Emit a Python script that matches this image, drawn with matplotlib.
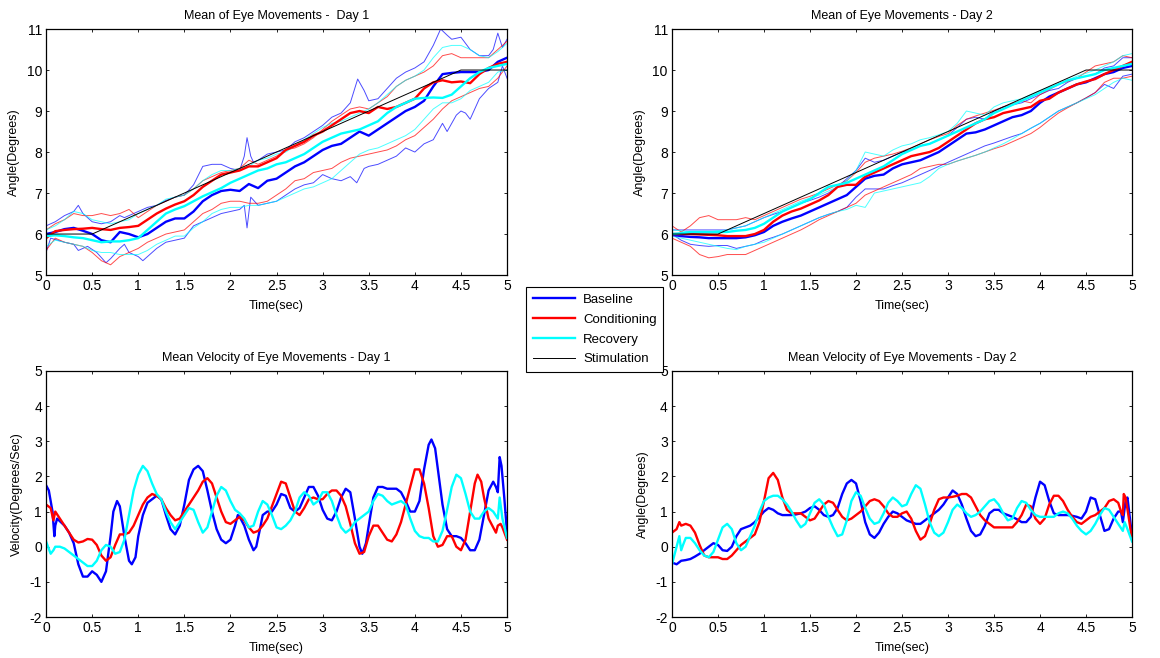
import numpy as np
import matplotlib
matplotlib.use("Agg")
import matplotlib.pyplot as plt
from matplotlib.lines import Line2D
from matplotlib.ticker import FuncFormatter

plt.rcParams['font.family'] = ['Liberation Sans', 'DejaVu Sans']

# ---------------- data ----------------
# common time grids (sec)
t_tenth = np.round(np.arange(0, 5.001, 0.1), 2)
t_step = np.round(np.arange(0, 5.001, 0.05), 2)

# stimulation profile (same for both days)
stim_t = [0, 0.5, 4.5, 5.0]
stim_v = [6, 6, 10, 10]

# ---- Day 1 position means (on t_tenth)
d1_base_mean = [6.0, 6.05, 6.12, 6.15, 6.08, 6.0, 5.85, 5.8, 6.05, 6.0,
                5.92, 6.0, 6.15, 6.3, 6.38, 6.38, 6.55, 6.8, 6.95, 7.05,
                7.08, 7.05, 7.22, 7.12, 7.3, 7.35, 7.5, 7.65, 7.75, 7.9,
                8.05, 8.15, 8.2, 8.35, 8.5, 8.4, 8.55, 8.7, 8.85, 9.0,
                9.1, 9.25, 9.6, 9.9, 9.93, 9.95, 9.95, 9.95, 10.0, 10.2,
                10.3]
d1_cond_mean = [5.9, 6.07, 6.1, 6.12, 6.13, 6.15, 6.12, 6.1, 6.15, 6.17,
                6.2, 6.35, 6.5, 6.62, 6.72, 6.8, 6.95, 7.15, 7.3, 7.45,
                7.5, 7.55, 7.65, 7.65, 7.75, 7.85, 8.05, 8.15, 8.25, 8.4,
                8.5, 8.65, 8.8, 8.95, 9.0, 8.95, 9.1, 9.05, 9.1, 9.2,
                9.3, 9.55, 9.7, 9.75, 9.7, 9.72, 9.68, 9.9, 10.05, 10.15,
                10.2]
d1_rec_mean = [5.95, 5.97, 5.95, 5.92, 5.9, 5.85, 5.8, 5.82, 5.82, 5.85,
               5.9, 6.1, 6.3, 6.5, 6.6, 6.68, 6.8, 6.92, 7.02, 7.12,
               7.25, 7.35, 7.45, 7.55, 7.6, 7.7, 7.75, 7.85, 7.95, 8.1,
               8.25, 8.35, 8.45, 8.5, 8.55, 8.65, 8.75, 8.95, 9.1, 9.2,
               9.3, 9.32, 9.33, 9.32, 9.4, 9.6, 9.8, 9.95, 10.05, 10.1,
               10.15]

# ---- Day 1 spread lines
d1_base_hi_t = [0, 0.1, 0.2, 0.3, 0.35, 0.4, 0.5, 0.6, 0.7, 0.8,
                0.85, 0.9, 1.0, 1.1, 1.2, 1.3, 1.4, 1.5, 1.6, 1.7,
                1.8, 1.9, 2.0, 2.1, 2.15, 2.18, 2.22, 2.25, 2.3, 2.4,
                2.5, 2.6, 2.7, 2.8, 2.9, 3.0, 3.1, 3.2, 3.3, 3.38,
                3.45, 3.5, 3.6, 3.7, 3.8, 3.9, 4.0, 4.1, 4.2, 4.28,
                4.35, 4.4, 4.5, 4.6, 4.7, 4.8, 4.85, 4.9, 4.95, 5.0]
d1_base_hi = [6.2, 6.3, 6.45, 6.55, 6.7, 6.5, 6.3, 6.25, 6.3, 6.45,
              6.4, 6.45, 6.55, 6.65, 6.7, 6.82, 6.9, 6.95, 7.2, 7.65,
              7.7, 7.7, 7.6, 7.55, 7.9, 8.35, 7.9, 7.75, 7.8, 7.95,
              8.0, 8.05, 8.25, 8.35, 8.5, 8.65, 8.85, 8.95, 9.2, 9.78,
              9.5, 9.25, 9.3, 9.55, 9.8, 9.95, 10.05, 10.2, 10.6, 11.0,
              10.85, 10.75, 10.8, 10.5, 10.35, 10.35, 10.5, 10.9, 10.55, 10.75]
d1_base_lo_t = [0, 0.05, 0.2, 0.3, 0.35, 0.45, 0.55, 0.65, 0.7, 0.8,
                0.85, 0.9, 1.0, 1.05, 1.1, 1.2, 1.3, 1.4, 1.5, 1.6,
                1.7, 1.8, 1.9, 2.0, 2.1, 2.15, 2.18, 2.22, 2.3, 2.4,
                2.5, 2.6, 2.7, 2.8, 2.9, 3.0, 3.1, 3.2, 3.3, 3.37,
                3.45, 3.5, 3.6, 3.7, 3.8, 3.9, 4.0, 4.1, 4.2, 4.3,
                4.35, 4.45, 4.5, 4.55, 4.6, 4.7, 4.8, 4.9, 4.95, 5.0]
d1_base_lo = [5.55, 5.9, 5.8, 5.75, 5.6, 5.7, 5.55, 5.3, 5.4, 5.65,
              5.75, 5.55, 5.45, 5.35, 5.45, 5.65, 5.8, 5.85, 5.9, 6.2,
              6.3, 6.4, 6.5, 6.55, 6.6, 6.7, 6.15, 6.9, 6.7, 6.75,
              6.8, 6.95, 7.1, 7.2, 7.25, 7.45, 7.35, 7.3, 7.4, 7.25,
              7.6, 7.65, 7.7, 7.8, 7.9, 8.1, 8.0, 8.2, 8.3, 8.7,
              8.5, 8.9, 9.0, 8.95, 8.8, 9.3, 9.55, 9.7, 10.1, 9.8]
d1_cond_hi = [6.1, 6.25, 6.35, 6.5, 6.45, 6.45, 6.5, 6.45, 6.5, 6.6,
              6.4, 6.55, 6.7, 6.8, 6.9, 6.95, 7.1, 7.3, 7.4, 7.5,
              7.55, 7.6, 7.8, 7.7, 7.8, 7.9, 8.05, 8.1, 8.2, 8.35,
              8.55, 8.75, 8.9, 9.05, 9.1, 9.05, 9.2, 9.35, 9.6, 9.75,
              9.85, 9.95, 10.1, 10.35, 10.4, 10.3, 10.3, 10.3, 10.3, 10.5,
              10.7]
d1_cond_lo = [5.6, 5.9, 5.8, 5.75, 5.7, 5.55, 5.35, 5.25, 5.45, 5.55,
              5.65, 5.8, 5.9, 6.0, 6.05, 6.1, 6.3, 6.5, 6.6, 6.75,
              6.8, 6.8, 6.75, 6.75, 6.8, 6.95, 7.1, 7.3, 7.35, 7.5,
              7.55, 7.6, 7.75, 7.85, 7.9, 7.95, 8.0, 8.05, 8.15, 8.3,
              8.4, 8.6, 8.8, 9.05, 9.25, 9.35, 9.45, 9.55, 9.6, 9.8,
              10.1]
d1_rec_hi = [6.1, 6.2, 6.35, 6.55, 6.5, 6.35, 6.3, 6.25, 6.3, 6.35,
             6.5, 6.6, 6.7, 6.85, 6.9, 6.95, 7.1, 7.3, 7.45, 7.55,
             7.55, 7.6, 7.65, 7.8, 7.85, 7.95, 8.0, 8.15, 8.3, 8.45,
             8.6, 8.7, 8.75, 8.85, 8.95, 9.05, 9.2, 9.4, 9.6, 9.75,
             9.85, 10.0, 10.3, 10.55, 10.6, 10.6, 10.5, 10.35, 10.3, 10.45,
             10.65]
d1_rec_lo = [5.7, 5.85, 5.8, 5.75, 5.7, 5.6, 5.55, 5.55, 5.5, 5.5,
             5.5, 5.6, 5.75, 5.85, 5.95, 5.95, 6.15, 6.3, 6.5, 6.6,
             6.65, 6.65, 6.7, 6.7, 6.75, 6.8, 6.9, 7.0, 7.1, 7.15,
             7.25, 7.35, 7.55, 7.75, 7.95, 8.05, 8.1, 8.2, 8.3, 8.4,
             8.55, 8.8, 9.05, 9.2, 9.2, 9.3, 9.5, 9.6, 9.7, 9.95,
             10.0]

# ---- Day 2 position (on t_tenth)
d2_base_mean = [5.98, 5.95, 5.93, 5.92, 5.9, 5.9, 5.9, 5.9, 5.92, 5.97,
                6.05, 6.2, 6.3, 6.38, 6.45, 6.55, 6.65, 6.75, 6.85, 6.95,
                7.15, 7.35, 7.42, 7.45, 7.6, 7.7, 7.75, 7.8, 7.9, 8.0,
                8.15, 8.3, 8.45, 8.48, 8.55, 8.65, 8.75, 8.85, 8.9, 9.0,
                9.2, 9.35, 9.45, 9.55, 9.65, 9.7, 9.8, 9.9, 9.95, 10.05,
                10.1]
d2_cond_mean = [6.0, 6.0, 6.0, 5.99, 5.98, 5.97, 5.95, 5.95, 5.95, 6.0,
                6.1, 6.3, 6.45, 6.55, 6.62, 6.72, 6.82, 6.95, 7.15, 7.2,
                7.2, 7.4, 7.5, 7.6, 7.7, 7.8, 7.9, 7.95, 8.0, 8.1,
                8.25, 8.4, 8.55, 8.7, 8.8, 8.85, 8.95, 9.0, 9.05, 9.1,
                9.25, 9.3, 9.45, 9.55, 9.65, 9.72, 9.78, 9.9, 10.0, 10.1,
                10.2]
d2_rec_mean = [6.0, 6.02, 6.05, 6.05, 6.05, 6.05, 6.05, 6.08, 6.1, 6.15,
               6.25, 6.4, 6.55, 6.65, 6.75, 6.85, 7.0, 7.15, 7.2, 7.25,
               7.35, 7.45, 7.55, 7.65, 7.8, 7.95, 8.05, 8.15, 8.2, 8.3,
               8.4, 8.5, 8.6, 8.7, 8.8, 8.95, 9.05, 9.15, 9.25, 9.35,
               9.45, 9.55, 9.65, 9.75, 9.8, 9.85, 9.9, 10.0, 10.05, 10.1,
               10.15]
d2_base_hi = [6.1, 6.1, 6.1, 6.1, 6.1, 6.1, 6.1, 6.15, 6.2, 6.3,
              6.4, 6.48, 6.55, 6.65, 6.75, 6.82, 6.9, 7.0, 7.15, 7.35,
              7.55, 7.85, 7.75, 7.8, 7.9, 8.0, 8.05, 8.15, 8.2, 8.3,
              8.4, 8.6, 8.8, 8.85, 8.8, 9.0, 9.1, 9.15, 9.2, 9.3,
              9.4, 9.5, 9.55, 9.7, 9.8, 9.85, 9.9, 10.05, 10.1, 10.3,
              10.3]
d2_base_lo = [6.0, 5.85, 5.75, 5.72, 5.7, 5.72, 5.72, 5.65, 5.7, 5.75,
              5.85, 5.92, 6.0, 6.1, 6.2, 6.3, 6.4, 6.48, 6.55, 6.65,
              6.9, 7.1, 7.1, 7.1, 7.18, 7.25, 7.35, 7.45, 7.55, 7.65,
              7.75, 7.85, 7.95, 8.05, 8.15, 8.22, 8.3, 8.38, 8.45, 8.58,
              8.7, 8.85, 9.0, 9.1, 9.2, 9.32, 9.45, 9.65, 9.55, 9.85,
              9.9]
d2_cond_hi = [6.2, 6.05, 6.2, 6.4, 6.45, 6.35, 6.35, 6.35, 6.4, 6.35,
              6.45, 6.55, 6.65, 6.75, 6.85, 6.92, 7.0, 7.1, 7.2, 7.3,
              7.5, 7.75, 7.85, 7.9, 7.95, 8.02, 8.1, 8.2, 8.3, 8.38,
              8.45, 8.65, 8.8, 8.88, 8.95, 9.02, 9.1, 9.18, 9.25, 9.2,
              9.4, 9.52, 9.65, 9.72, 9.8, 9.95, 10.1, 10.15, 10.2, 10.35,
              10.3]
d2_cond_lo = [5.9, 5.8, 5.7, 5.5, 5.42, 5.45, 5.5, 5.5, 5.5, 5.6,
              5.7, 5.8, 5.9, 6.0, 6.1, 6.22, 6.35, 6.45, 6.55, 6.65,
              6.75, 6.95, 7.05, 7.15, 7.25, 7.35, 7.45, 7.6, 7.65, 7.7,
              7.7, 7.78, 7.85, 7.92, 8.0, 8.08, 8.15, 8.25, 8.35, 8.45,
              8.6, 8.78, 8.95, 9.08, 9.2, 9.32, 9.45, 9.7, 9.8, 9.8,
              9.85]
d2_rec_hi = [6.1, 6.08, 6.05, 6.05, 6.05, 6.08, 6.1, 6.15, 6.2, 6.3,
             6.4, 6.5, 6.6, 6.7, 6.8, 6.88, 6.95, 7.05, 7.15, 7.3,
             7.55, 8.0, 7.95, 7.9, 8.05, 8.15, 8.2, 8.3, 8.35, 8.42,
             8.5, 8.7, 9.0, 8.95, 8.9, 9.1, 9.2, 9.25, 9.3, 9.4,
             9.5, 9.58, 9.65, 9.75, 9.85, 9.92, 10.0, 10.1, 10.2, 10.35,
             10.4]
d2_rec_lo = [5.95, 5.9, 5.85, 5.8, 5.75, 5.7, 5.65, 5.62, 5.7, 5.75,
             5.8, 5.9, 6.0, 6.1, 6.2, 6.3, 6.4, 6.48, 6.55, 6.6,
             6.7, 6.65, 7.0, 7.05, 7.1, 7.15, 7.2, 7.25, 7.4, 7.6,
             7.7, 7.78, 7.85, 7.92, 8.0, 8.1, 8.2, 8.32, 8.45, 8.58,
             8.7, 8.85, 9.0, 9.1, 9.2, 9.3, 9.4, 9.55, 9.7, 9.8,
             9.75]

# ---- Day 1 velocity
v1_base_t = [0, 0.03, 0.07, 0.09, 0.1, 0.12, 0.2, 0.25, 0.3, 0.35,
             0.4, 0.45, 0.5, 0.55, 0.6, 0.65, 0.7, 0.73, 0.77, 0.8,
             0.85, 0.9, 0.93, 0.97, 1.0, 1.05, 1.1, 1.2, 1.25, 1.3,
             1.35, 1.4, 1.45, 1.5, 1.55, 1.6, 1.65, 1.7, 1.75, 1.8,
             1.85, 1.9, 1.95, 2.0, 2.05, 2.08, 2.1, 2.15, 2.2, 2.25,
             2.28, 2.32, 2.35, 2.4, 2.45, 2.5, 2.55, 2.6, 2.65, 2.7,
             2.75, 2.8, 2.85, 2.9, 2.95, 3.0, 3.05, 3.1, 3.15, 3.2,
             3.25, 3.3, 3.35, 3.4, 3.43, 3.47, 3.5, 3.55, 3.6, 3.65,
             3.7, 3.8, 3.85, 3.9, 3.95, 4.0, 4.05, 4.1, 4.15, 4.18,
             4.22, 4.25, 4.3, 4.35, 4.4, 4.45, 4.5, 4.55, 4.6, 4.65,
             4.7, 4.75, 4.8, 4.85, 4.88, 4.9, 4.92, 4.94, 4.97, 5.0]
v1_base = [1.75, 1.6, 1.0, 0.3, 0.6, 0.8, 0.6, 0.4, 0.1, -0.5,
           -0.85, -0.85, -0.7, -0.8, -1.0, -0.7, 0.3, 1.0, 1.3, 1.15,
           0.3, -0.4, -0.5, -0.3, 0.3, 0.9, 1.25, 1.45, 1.35, 0.9,
           0.5, 0.35, 0.6, 1.2, 1.9, 2.2, 2.3, 2.15, 1.6, 1.0,
           0.5, 0.2, 0.1, 0.2, 0.6, 0.9, 0.85, 0.6, 0.2, -0.1,
           0.0, 0.5, 0.9, 1.0, 1.0, 1.2, 1.5, 1.45, 1.1, 1.0,
           1.1, 1.4, 1.7, 1.7, 1.45, 1.05, 0.8, 0.75, 1.0, 1.4,
           1.65, 1.55, 0.8, 0.0, -0.2, 0.1, 0.6, 1.4, 1.7, 1.7,
           1.65, 1.65, 1.55, 1.3, 1.0, 1.0, 1.3, 2.2, 2.9, 3.05,
           2.8, 2.2, 1.2, 0.5, 0.3, 0.3, 0.25, 0.1, -0.1, -0.1,
           0.2, 0.9, 1.6, 1.85, 1.7, 1.55, 2.55, 2.3, 1.4, 0.4]
v1_cond_t = [0, 0.05, 0.08] + list(t_step[2:94]) + [4.68, 4.72, 4.75, 4.8, 4.85, 4.88, 4.9, 4.93, 4.95, 5.0]
v1_cond = [1.2, 1.1, 0.75,
           1.0, 0.8, 0.6, 0.4, 0.2, 0.12, 0.15, 0.22,
           0.2, 0.05, -0.25, -0.4, -0.3, 0.05, 0.35, 0.35, 0.4, 0.6,
           0.9, 1.2, 1.4, 1.5, 1.45, 1.35, 1.1, 0.9, 0.75, 0.8,
           1.0, 1.2, 1.4, 1.6, 1.85, 1.95, 1.8, 1.4, 1.0, 0.7,
           0.65, 0.75, 0.85, 0.75, 0.55, 0.4, 0.45, 0.6, 0.8, 1.15,
           1.5, 1.85, 1.8, 1.4, 1.0, 0.9, 1.1, 1.35, 1.4, 1.35,
           1.35, 1.5, 1.6, 1.6, 1.45, 1.15, 0.65, 0.1, -0.2, -0.15,
           0.3, 0.6, 0.6, 0.4, 0.2, 0.15, 0.35, 0.7, 1.2, 1.7,
           2.2, 2.2, 1.8, 1.1, 0.3, 0.0, 0.05, 0.3, 0.3, 0.0,
           -0.1, 0.2, 1.0, 1.8,
           2.05, 1.85, 1.4, 0.8, 0.55, 0.4, 0.6, 0.65, 0.55, 0.2]
v1_rec_t = [0, 0.05, 0.08] + list(t_step[2:99]) + [4.92, 4.95, 5.0]
v1_rec = [0.15, -0.2, -0.1,
          0.0, 0.0, -0.05, -0.15, -0.25, -0.35, -0.45, -0.55,
          -0.55, -0.4, -0.1, 0.05, 0.0, -0.2, -0.15, 0.2, 0.9, 1.6,
          2.05, 2.3, 2.15, 1.8, 1.5, 1.35, 1.0, 0.7, 0.5, 0.7,
          0.9, 1.1, 1.05, 0.7, 0.4, 0.55, 1.0, 1.45, 1.7, 1.6,
          1.3, 1.05, 0.95, 0.8, 0.55, 0.6, 1.0, 1.3, 1.2, 0.9,
          0.55, 0.5, 0.6, 0.75, 1.0, 1.4, 1.55, 1.45, 1.2, 1.3,
          1.55, 1.55, 1.3, 0.9, 0.55, 0.4, 0.5, 0.7, 0.8, 0.9,
          1.0, 1.3, 1.5, 1.45, 1.3, 1.2, 1.25, 1.3, 1.2, 0.8,
          0.45, 0.3, 0.25, 0.25, 0.15, 0.15, 0.45, 1.05, 1.7, 2.05,
          1.95, 1.5, 1.0, 0.8, 0.8, 1.0, 1.1, 1.0, 0.8,
          1.4, 0.8, 0.25]

# ---- Day 2 velocity
v2_base_t = list(t_step[:98]) + [4.88, 4.9, 4.93, 4.95, 5.0]
v2_base = [-0.45, -0.5, -0.4, -0.38, -0.35, -0.28, -0.2, -0.1, 0.0, 0.1,
           0.05, -0.1, -0.12, 0.0, 0.3, 0.5, 0.55, 0.6, 0.7, 0.85,
           1.0, 1.1, 1.05, 0.95, 0.9, 0.9, 0.9, 0.92, 0.95, 1.0,
           1.1, 1.15, 1.05, 0.9, 0.85, 0.9, 1.1, 1.5, 1.8, 1.9,
           1.8, 1.3, 0.7, 0.35, 0.25, 0.4, 0.65, 0.85, 1.0, 0.95,
           0.85, 0.75, 0.7, 0.65, 0.65, 0.75, 0.85, 0.95, 1.05, 1.2,
           1.4, 1.6, 1.5, 1.2, 0.8, 0.45, 0.3, 0.35, 0.6, 0.95,
           1.05, 1.05, 0.95, 0.9, 0.85, 0.78, 0.7, 0.7, 0.85, 1.4,
           1.85, 1.75, 1.3, 0.95, 0.9, 0.9, 0.9, 0.88, 0.85, 0.8,
           1.0, 1.4, 1.35, 0.9, 0.45, 0.5, 0.8, 1.0,
           1.0, 0.7, 1.3, 1.4, 0.3]
v2_cond_t = [0, 0.05, 0.08] + list(t_step[2:98]) + [4.88, 4.9, 4.91, 4.93, 4.96, 5.0]
v2_cond = [0.4, 0.5, 0.7,
           0.6, 0.65, 0.6, 0.4, 0.05, -0.25, -0.3, -0.3,
           -0.3, -0.35, -0.35, -0.25, -0.1, 0.05, 0.15, 0.25, 0.35, 0.7,
           1.3, 1.95, 2.1, 1.9, 1.4, 1.05, 0.95, 0.95, 0.95, 0.85,
           0.75, 0.8, 1.0, 1.2, 1.3, 1.25, 1.05, 0.85, 0.75, 0.8,
           0.9, 1.0, 1.15, 1.3, 1.35, 1.3, 1.15, 0.95, 0.85, 0.85,
           0.95, 1.0, 0.8, 0.45, 0.2, 0.3, 0.65, 1.05, 1.35, 1.4,
           1.4, 1.42, 1.45, 1.5, 1.5, 1.4, 1.15, 0.9, 0.75, 0.65,
           0.55, 0.55, 0.55, 0.55, 0.55, 0.7, 0.9, 1.2, 1.15, 0.8,
           0.65, 0.8, 1.2, 1.45, 1.45, 1.3, 1.05, 0.85, 0.7, 0.65,
           0.75, 0.85, 0.9, 1.0, 1.1, 1.3, 1.35, 1.25,
           1.0, 0.9, 1.5, 1.4, 0.9, 0.2]
v2_rec_t = [0, 0.05, 0.08, 0.1, 0.12] + list(t_step[3:98]) + [4.9, 4.92, 4.95, 5.0]
v2_rec = [-0.5, 0.0, 0.3, -0.1, 0.05,
          0.25, 0.25, 0.1, -0.1, -0.25, -0.3, -0.15,
          0.2, 0.55, 0.65, 0.5, 0.1, -0.1, 0.0, 0.3, 0.6, 1.0,
          1.3, 1.4, 1.45, 1.45, 1.35, 1.2, 1.0, 0.75, 0.55, 0.65,
          0.95, 1.25, 1.35, 1.2, 0.85, 0.55, 0.3, 0.35, 0.75, 1.3,
          1.55, 1.45, 1.1, 0.8, 0.65, 0.7, 0.95, 1.25, 1.4, 1.3,
          1.15, 1.2, 1.5, 1.75, 1.65, 1.2, 0.7, 0.4, 0.3, 0.4,
          0.7, 1.05, 1.2, 1.1, 0.95, 0.85, 0.9, 1.0, 1.15, 1.3,
          1.35, 1.2, 0.95, 0.75, 0.8, 1.1, 1.3, 1.25, 1.05, 0.9,
          0.85, 0.85, 0.85, 0.85, 0.95, 1.0, 0.95, 0.8, 0.6, 0.45,
          0.35, 0.45, 0.65, 0.9, 1.1, 1.05, 0.85, 0.65,
          0.45, 0.7, 0.5, 0.15]

labels = ['Baseline', 'Conditioning', 'Recovery', 'Stimulation']
colors = ['#0000ff', '#ff0000', '#00ffff', '#000000']

# ---------------- figure ----------------
fig = plt.figure(figsize=(11.6, 6.58), dpi=100)
ax1 = fig.add_axes([0.0397, 0.582, 0.3974, 0.3739])
ax2 = fig.add_axes([0.5793, 0.582, 0.3966, 0.3739])
ax3 = fig.add_axes([0.0397, 0.0623, 0.3974, 0.3739])
ax4 = fig.add_axes([0.5793, 0.0623, 0.3966, 0.3739])

fmt = FuncFormatter(lambda v, p: '%g' % v)


def style(ax, ylo, yhi, title, ylabel):
    ax.set_xlim(0, 5)
    ax.set_ylim(ylo, yhi)
    ax.set_xticks(np.arange(0, 5.01, 0.5))
    ax.set_yticks(np.arange(ylo, yhi + 0.01, 1))
    ax.xaxis.set_major_formatter(fmt)
    ax.yaxis.set_major_formatter(fmt)
    ax.tick_params(direction='in', length=2.5, width=0.6, top=True, right=True,
                   labelsize=10, pad=3)
    for s in ax.spines.values():
        s.set_linewidth(0.9)
    ax.set_title(title, fontsize=9, pad=7.5)
    ax.set_xlabel('Time(sec)', fontsize=9, labelpad=5)
    ax.set_ylabel(ylabel, fontsize=9, labelpad=4.5)


thin = dict(lw=0.7, alpha=0.7)
thick = dict(lw=1.7)

# Day 1 position
ax1.plot(d1_base_hi_t, d1_base_hi, color=colors[0], **thin)
ax1.plot(d1_base_lo_t, d1_base_lo, color=colors[0], **thin)
ax1.plot(t_tenth, d1_cond_hi, color=colors[1], **thin)
ax1.plot(t_tenth, d1_cond_lo, color=colors[1], **thin)
ax1.plot(t_tenth, d1_rec_hi, color=colors[2], **thin)
ax1.plot(t_tenth, d1_rec_lo, color=colors[2], **thin)
ax1.plot(t_tenth, d1_base_mean, color=colors[0], **thick)
ax1.plot(t_tenth, d1_cond_mean, color=colors[1], **thick)
ax1.plot(t_tenth, d1_rec_mean, color=colors[2], **thick)
ax1.plot(stim_t, stim_v, color=colors[3], lw=0.7)
style(ax1, 5, 11, 'Mean of Eye Movements -  Day 1', 'Angle(Degrees)')

# Day 2 position
ax2.plot(t_tenth, d2_base_hi, color=colors[0], **thin)
ax2.plot(t_tenth, d2_base_lo, color=colors[0], **thin)
ax2.plot(t_tenth, d2_cond_hi, color=colors[1], **thin)
ax2.plot(t_tenth, d2_cond_lo, color=colors[1], **thin)
ax2.plot(t_tenth, d2_rec_hi, color=colors[2], **thin)
ax2.plot(t_tenth, d2_rec_lo, color=colors[2], **thin)
ax2.plot(t_tenth, d2_base_mean, color=colors[0], **thick)
ax2.plot(t_tenth, d2_cond_mean, color=colors[1], **thick)
ax2.plot(t_tenth, d2_rec_mean, color=colors[2], **thick)
ax2.plot(stim_t, stim_v, color=colors[3], lw=0.7)
style(ax2, 5, 11, 'Mean of Eye Movements - Day 2', 'Angle(Degrees)')

# velocities
ax3.plot(v1_base_t, v1_base, color=colors[0], **thick)
ax3.plot(v1_cond_t, v1_cond, color=colors[1], **thick)
ax3.plot(v1_rec_t, v1_rec, color=colors[2], **thick)
style(ax3, -2, 5, 'Mean Velocity of Eye Movements - Day 1', 'Velocity(Degrees/Sec)')

ax4.plot(v2_base_t, v2_base, color=colors[0], **thick)
ax4.plot(v2_cond_t, v2_cond, color=colors[1], **thick)
ax4.plot(v2_rec_t, v2_rec, color=colors[2], **thick)
style(ax4, -2, 5, 'Mean Velocity of Eye Movements - Day 2', 'Angle(Degrees)')

# shared legend between the panels
handles = [Line2D([], [], color=colors[0], lw=1.7),
           Line2D([], [], color=colors[1], lw=1.7),
           Line2D([], [], color=colors[2], lw=1.7),
           Line2D([], [], color=colors[3], lw=0.7)]
leg = fig.legend(handles, labels, loc='center', bbox_to_anchor=(0.5129, 0.4992),
                 fontsize=9.5, frameon=True, fancybox=False, framealpha=1,
                 edgecolor='black', handlelength=3.2, handletextpad=0.6,
                 labelspacing=0.58, borderpad=0.5)
leg.get_frame().set_linewidth(0.8)
leg.set_zorder(10)

fig.savefig('out.png', dpi=100)
